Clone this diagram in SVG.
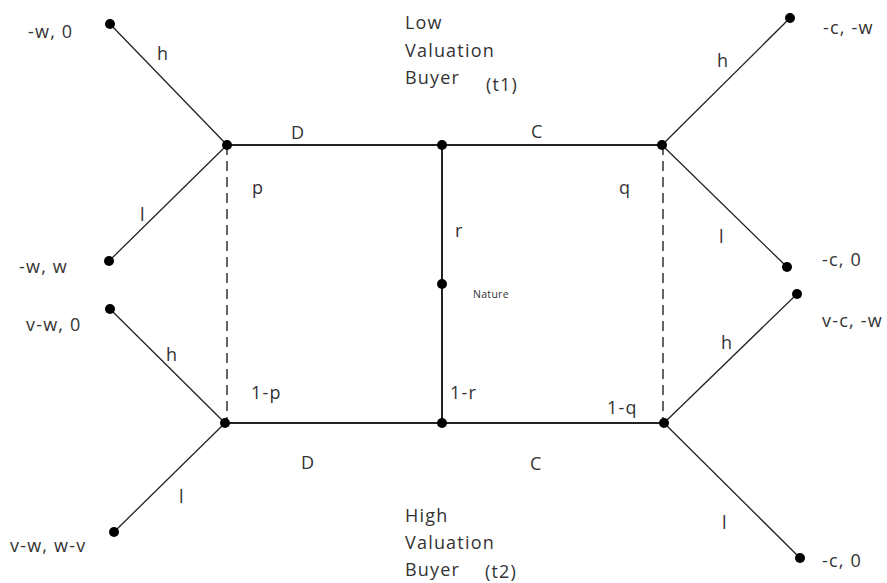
<svg xmlns="http://www.w3.org/2000/svg" width="887" height="583" viewBox="0 0 887 583">
<style>
text{font-family:"Open Sans","Liberation Sans",sans-serif;font-size:18px;letter-spacing:1.2px;fill:#333}
.thin{stroke:#222;stroke-width:1.3;fill:none}
.thick{stroke:#222;stroke-width:2;fill:none}
.dash{stroke:#222;stroke-width:1.4;stroke-dasharray:10 6;fill:none}
.dot{fill:#000}
.small{font-size:10.5px;letter-spacing:0.3px}
</style>
<rect width="887" height="583" fill="#fff"/>
<g id="connectors">
<line class="thick" x1="227" y1="145" x2="662" y2="145"/>
<line class="thick" x1="225" y1="423" x2="664" y2="423"/>
<line class="thick" x1="442" y1="145" x2="442" y2="423" stroke="#444"/>
<line class="dash" x1="227" y1="145" x2="227" y2="423"/>
<line class="dash" x1="663" y1="145" x2="663" y2="423"/>
<line class="thin" x1="227" y1="145" x2="110" y2="24"/>
<line class="thin" x1="227" y1="145" x2="109" y2="261"/>
<line class="thin" x1="662" y1="145" x2="790" y2="18"/>
<line class="thin" x1="662" y1="145" x2="787" y2="267"/>
<line class="thin" x1="225" y1="423" x2="110" y2="309"/>
<line class="thin" x1="225" y1="423" x2="114" y2="532"/>
<line class="thin" x1="664" y1="423" x2="797" y2="294"/>
<line class="thin" x1="664" y1="423" x2="800" y2="558"/>
</g>
<g id="n-tl"><circle class="dot" cx="227" cy="145" r="5"/><text x="252" y="194">p</text></g>
<g id="n-tc"><circle class="dot" cx="442" cy="145" r="5"/></g>
<g id="n-tr"><circle class="dot" cx="662" cy="145" r="5"/><text x="619" y="194">q</text></g>
<g id="n-nature"><circle class="dot" cx="442" cy="284" r="5"/><text class="small" x="473" y="298">Nature</text></g>
<g id="n-bl"><circle class="dot" cx="225" cy="423" r="5"/><text x="251" y="399">1-p</text></g>
<g id="n-bc"><circle class="dot" cx="442" cy="423" r="5"/><text x="450" y="399">1-r</text></g>
<g id="n-br"><circle class="dot" cx="664" cy="423" r="5"/><text x="607" y="414">1-q</text></g>
<g id="leaf1"><circle class="dot" cx="110" cy="24" r="5"/><text x="28" y="38">-w, 0</text></g>
<g id="leaf2"><circle class="dot" cx="109" cy="261" r="5"/><text x="19" y="273">-w, w</text></g>
<g id="leaf3"><circle class="dot" cx="790" cy="18" r="5"/><text x="823" y="34">-c, -w</text></g>
<g id="leaf4"><circle class="dot" cx="787" cy="267" r="5"/><text x="822" y="266">-c, 0</text></g>
<g id="leaf5"><circle class="dot" cx="110" cy="309" r="5"/><text x="26" y="331">v-w, 0</text></g>
<g id="leaf6"><circle class="dot" cx="114" cy="532" r="5"/><text x="10" y="552">v-w, w-v</text></g>
<g id="leaf7"><circle class="dot" cx="797" cy="294" r="5"/><text x="822" y="327">v-c, -w</text></g>
<g id="leaf8"><circle class="dot" cx="800" cy="558" r="5"/><text x="822" y="567">-c, 0</text></g>
<g id="labels">
<text x="157" y="60">h</text>
<text x="140" y="221">l</text>
<text x="166" y="361">h</text>
<text x="179" y="503">l</text>
<text x="717" y="67">h</text>
<text x="719" y="243">l</text>
<text x="721" y="349">h</text>
<text x="722" y="529">l</text>
<text x="291" y="139">D</text>
<text x="531" y="138">C</text>
<text x="301" y="469">D</text>
<text x="530" y="470">C</text>
<text x="455" y="237">r</text>
</g>
<g id="t1">
<text x="405" y="29">Low</text>
<text x="405" y="57">Valuation</text>
<text x="405" y="84">Buyer</text>
<text x="486" y="91">(t1)</text>
</g>
<g id="t2">
<text x="405" y="522">High</text>
<text x="405" y="549">Valuation</text>
<text x="405" y="576">Buyer</text>
<text x="485" y="578">(t2)</text>
</g>
</svg>
